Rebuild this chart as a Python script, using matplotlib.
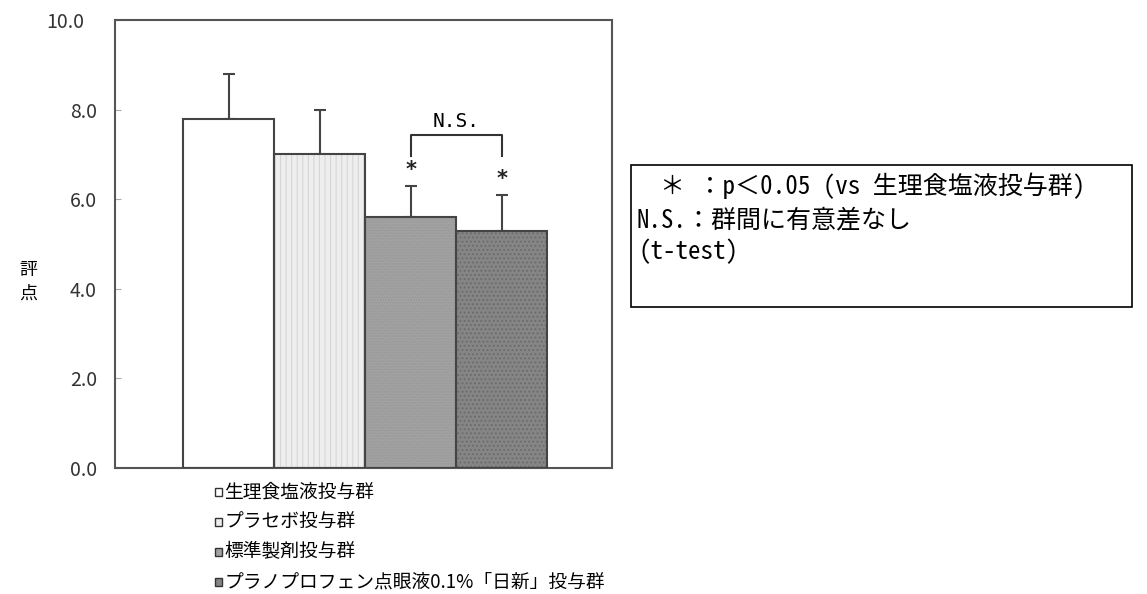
import matplotlib.pyplot as plt
from matplotlib.patches import Rectangle
from matplotlib.transforms import ScaledTranslation

plt.rcParams['font.family'] = ['Noto Sans CJK JP', 'DejaVu Sans']
plt.rcParams['hatch.linewidth'] = 0.8

# group names, mean scores and upper error (SD)
groups = ['生理食塩液投与群', 'プラセボ投与群', '標準製剤投与群',
          'プラノプロフェン点眼液0.1%「日新」投与群']
means = [7.8, 7.0, 5.6, 5.3]
errors = [1.0, 1.0, 0.7, 0.8]
significant = [False, False, True, True]
yticks = [0.0, 2.0, 4.0, 6.0, 8.0, 10.0]

fills = ['#ffffff', '#eeeeee', '#a2a2a2', '#858585']
hatches = [None, '|||', '......', '....']
hatch_colors = ['#ffffff', '#d6d6d6', '#989898', '#6a6a6a']

fig = plt.figure(figsize=(11.47, 5.94), dpi=100)
ax = fig.add_axes([0.1003, 0.2121, 0.4333, 0.7542])

x = list(range(len(groups)))
# fill + hatch layer, then the dark outline on top
ax.bar(x, means, width=1.0, color=fills, edgecolor=hatch_colors, hatch=hatches,
       linewidth=0, zorder=2)
ax.bar(x, means, width=1.0, color='none', edgecolor='#444444', linewidth=1.5, zorder=3)
ax.errorbar(x, means, yerr=[[0] * len(means), errors], fmt='none', ecolor='#444444',
            elinewidth=1.5, capsize=4, capthick=1.5, zorder=1)

# asterisks above significant bars
for i, (m, e, s) in enumerate(zip(means, errors, significant)):
    if s:
        ax.text(i, m + e + 0.12, '*', ha='center', va='bottom', fontsize=15,
                fontweight='bold', family='DejaVu Sans', color='#222222')

# N.S. bracket between the two treated groups
bx = [2, 2, 3, 3]
by = [6.96, 7.43, 7.43, 6.96]
ax.plot(bx, by, color='#333333', lw=1.5)
ax.text(2.5, 7.53, 'N.S.', ha='center', va='bottom', fontsize=14, family='DejaVu Sans Mono')

ax.set_xlim(-1.25, 4.21)
ax.set_ylim(0, 10)
ax.set_xticks([])
ax.set_yticks(yticks)
ax.set_yticklabels(['%.1f' % t for t in yticks], fontsize=14, color='#333333')
ax.tick_params(axis='y', direction='in', length=4, color='#aaaaaa', pad=13)
# the top label sits a little further left
top_lab = ax.get_yticklabels()[-1]
top_lab.set_transform(top_lab.get_transform() + ScaledTranslation(-0.13, 0, fig.dpi_scale_trans))
for sp in ax.spines.values():
    sp.set_color('#555555')
    sp.set_linewidth(1.5)

fig.text(0.0245, 1 - 282 / 594, '評\n点', ha='center', va='center', fontsize=13, linespacing=1.4)

# legend below the plot
leg_y = [492, 522, 552, 582]
for g, f, yy in zip(groups, fills, leg_y):
    yf = 1 - yy / 594
    fig.patches.append(Rectangle((0.1875, yf - 0.0065), 0.0063, 0.0125, transform=fig.transFigure,
                                 facecolor=f, edgecolor='#333333', linewidth=1.0))
    fig.text(0.1955, yf, g, ha='left', va='center', fontsize=13.5)

# notes box
fig.patches.append(Rectangle((631 / 1147, 1 - 307 / 594), (1132 - 631) / 1147, (307 - 165) / 594,
                             transform=fig.transFigure, facecolor='white',
                             edgecolor='black', linewidth=1.2))
note_font = ['Noto Sans Mono CJK JP', 'Noto Sans CJK JP', 'DejaVu Sans']
fig.text(660 / 1147, 1 - 186 / 594, '＊ ：p＜0.05 (vs 生理食塩液投与群)', ha='left', va='center',
         fontsize=18, family=note_font)
fig.text(636 / 1147, 1 - 220 / 594, 'N.S.：群間に有意差なし', ha='left', va='center',
         fontsize=18, family=note_font)
fig.text(638 / 1147, 1 - 251 / 594, '(t-test)', ha='left', va='center', fontsize=18, family=note_font)

fig.savefig('out.png', dpi=100)
